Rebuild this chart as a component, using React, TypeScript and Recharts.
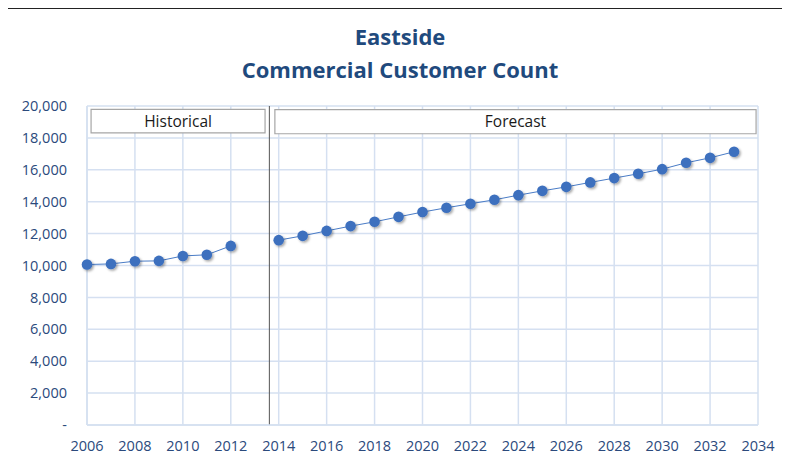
import React from "react";
import {
  LineChart, Line, XAxis, YAxis, CartesianGrid, ReferenceArea, ReferenceLine,
} from "recharts";

const histYears = [2006, 2007, 2008, 2009, 2010, 2011, 2012];
const histValues = [10060, 10100, 10270, 10290, 10600, 10670, 11230];

const foreYears = [
  2014, 2015, 2016, 2017, 2018, 2019, 2020, 2021, 2022, 2023,
  2024, 2025, 2026, 2027, 2028, 2029, 2030, 2031, 2032, 2033,
];
const foreValues = [
  11590, 11860, 12170, 12470, 12740, 13050, 13350, 13620, 13870, 14120,
  14410, 14680, 14930, 15210, 15480, 15750, 16040, 16440, 16750, 17130,
];

const xTicks = [2006, 2008, 2010, 2012, 2014, 2016, 2018, 2020, 2022, 2024, 2026, 2028, 2030, 2032, 2034];
const yTicks = [0, 2000, 4000, 6000, 8000, 10000, 12000, 14000, 16000, 18000, 20000];

const data = [
  ...histYears.map((year, i) => ({ year, hist: histValues[i], fore: null as number | null })),
  ...foreYears.map((year, i) => ({ year, hist: null as number | null, fore: foreValues[i] })),
];

const FONT = "'Open Sans', sans-serif";
const BLUE = "#3c6fbe";
const AXIS_TEXT = "#2b4a7c";
const GRID = "#d5e0f1";

const fmt = (v: number) => (v === 0 ? "-" : v.toLocaleString("en-US"));

export default function App() {
  const dot = { r: 5.3, fill: BLUE, stroke: BLUE, strokeWidth: 0, filter: "url(#dotShadow)" };
  return (
    <div style={{ position: "relative", width: 790, height: 464, marginLeft: -8, marginTop: -8, background: "#fff", fontFamily: FONT }}>
      <div style={{ position: "absolute", left: 0, width: 800, top: 20, textAlign: "center", color: "#1f4a7d", fontWeight: 700, fontSize: 22, lineHeight: "33px" }}>
        <div>Eastside</div>
        <div>Commercial Customer Count</div>
      </div>
      <div style={{ position: "absolute", left: 0, top: 0 }}>
        <LineChart
          width={790}
          height={464}
          data={data}
          margin={{ top: 106, right: 32, bottom: 9, left: 7 }}
        >
          <defs>
            <filter id="dotShadow" x="-50%" y="-50%" width="200%" height="200%">
              <feDropShadow dx="1.5" dy="1.5" stdDeviation="1" floodColor="#000" floodOpacity="0.35" />
            </filter>
          </defs>
          <CartesianGrid stroke={GRID} strokeWidth={1.5} verticalValues={xTicks} horizontalValues={yTicks} />
          <XAxis
            dataKey="year"
            type="number"
            domain={[2006, 2034]}
            ticks={xTicks}
            axisLine={{ stroke: GRID, strokeWidth: 1.5 }}
            tickLine={false}
            tickSize={0}
            tickMargin={16}
            height={30}
            tick={{ fill: AXIS_TEXT, fontSize: 14.5, fontFamily: FONT }}
          />
          <YAxis
            type="number"
            domain={[0, 20000]}
            ticks={yTicks}
            tickFormatter={fmt}
            axisLine={{ stroke: GRID, strokeWidth: 1.5 }}
            tickLine={false}
            tickSize={0}
            tickMargin={20}
            width={80}
            tick={{ fill: AXIS_TEXT, fontSize: 14.5, fontFamily: FONT }}
          />
          <ReferenceLine x={2013.61} stroke="#555" strokeWidth={1} />
          <ReferenceArea
            x1={2006.17}
            x2={2013.43}
            y1={18310}
            y2={19790}
            fill="#fff"
            fillOpacity={1}
            stroke="#a6a6a6"
            strokeWidth={1.2}
            label={{ value: "Historical", position: "center", fill: "#1a1a1a", fontSize: 15.5, fontFamily: FONT }}
          />
          <ReferenceArea
            x1={2013.84}
            x2={2033.92}
            y1={18260}
            y2={19770}
            fill="#fff"
            fillOpacity={1}
            stroke="#a6a6a6"
            strokeWidth={1.2}
            label={{ value: "Forecast", position: "center", fill: "#1a1a1a", fontSize: 15.5, fontFamily: FONT }}
          />
          <Line dataKey="hist" stroke="#4a7cc6" strokeWidth={1} dot={dot} activeDot={false} connectNulls={false} isAnimationActive={false} />
          <Line dataKey="fore" stroke="#4a7cc6" strokeWidth={1} dot={dot} activeDot={false} connectNulls={false} isAnimationActive={false} />
        </LineChart>
      </div>
      <div style={{ position: "absolute", left: 5, top: 8, width: 782, height: 1, background: "#222" }} />
      <div style={{ position: "absolute", left: 5, top: 8, width: 2, height: 456, background: "#222" }} />
      <div style={{ position: "absolute", left: 786, top: 8, width: 1, height: 456, background: "#444" }} />
    </div>
  );
}
